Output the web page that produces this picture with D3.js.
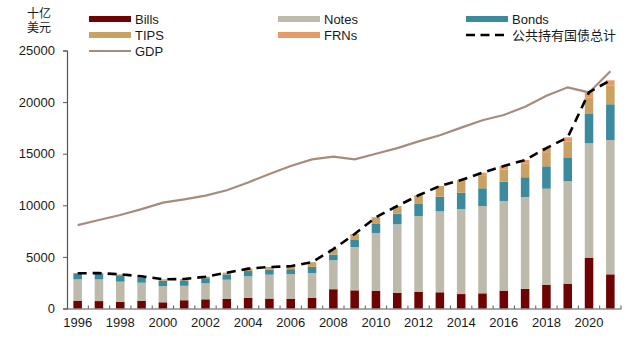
<!DOCTYPE html>
<html>
<head>
<meta charset="utf-8">
<script src="https://cdn.jsdelivr.net/npm/d3@7"></script>
<style>
  html, body { margin: 0; padding: 0; background: #fff; }
  svg { display: block; }
  text { font-family: "Liberation Sans", Arial, "Noto Sans CJK SC", sans-serif; fill: #1a1a1a; }
</style>
</head>
<body>
<svg id="chart"></svg>
<script>
(function() {

    // Data (billions of USD)
    const years = d3.range(1996, 2022);
    const bills = [760, 720, 640, 730, 600, 800, 890, 920, 1020, 960, 950, 1020, 1870, 1760, 1730, 1530, 1630, 1570, 1400, 1470, 1730, 1900, 2280, 2410, 4930, 3310];
    const notes = [2070, 2100, 1960, 1770, 1580, 1400, 1550, 1870, 2100, 2320, 2390, 2420, 2810, 4200, 5590, 6630, 7330, 7850, 8240, 8460, 8690, 8890, 9330, 9920, 11080, 13020];
    const bonds = [580, 580, 620, 520, 520, 510, 500, 510, 510, 480, 470, 600, 550, 740, 870, 1030, 1170, 1410, 1580, 1720, 1870, 1930, 2170, 2320, 2840, 3460];
    const tips = [0, 30, 90, 100, 130, 150, 140, 170, 230, 260, 290, 450, 520, 520, 650, 740, 840, 1040, 1130, 1200, 1180, 1310, 1370, 1520, 1570, 1800];
    const frns = [0, 0, 0, 0, 0, 0, 0, 0, 0, 0, 0, 0, 0, 0, 0, 0, 0, 0, 100, 310, 340, 360, 400, 420, 530, 520];
    const gdp = [8073, 8578, 9063, 9631, 10252, 10582, 10936, 11458, 12214, 13037, 13815, 14452, 14713, 14449, 14992, 15543, 16197, 16785, 17527, 18238, 18745, 19543, 20612, 21433, 20937, 22997];
    const yTicks = [0, 5000, 10000, 15000, 20000, 25000];
    const xLabels = d3.range(1996, 2021, 2);

    const keys = ['bills', 'notes', 'bonds', 'tips', 'frns'];
    const colors = {
        bills: '#6e0303',
        notes: '#bdbaab',
        bonds: '#3b8a9e',
        tips: '#c9a263',
        frns: '#e49b68'
    };

    const rows = years.map((y, i) => ({
        year: y,
        bills: bills[i],
        notes: notes[i],
        bonds: bonds[i],
        tips: tips[i],
        frns: frns[i]
    }));

    const w = 640;
    const h = 341;
    const left = 67;
    const right = 621;
    const bottom = 308.5;
    const top = 50.5;

    const svg = d3.select('#chart')
        .attr('width', w)
        .attr('height', h);

    // Scales
    const scaleX = d3.scaleBand()
        .domain(years)
        .range([left, right])
        .paddingInner(0.6)
        .paddingOuter(0.3);

    const scaleY = d3.scaleLinear()
        .domain([0, 25000])
        .range([bottom, top]);

    const step = scaleX.step();
    const cx = d => scaleX(d) + scaleX.bandwidth() / 2;

    // Stacked bars
    const stacked = d3.stack().keys(keys)(rows);

    svg.append('g')
        .selectAll('g')
        .data(stacked)
        .enter()
        .append('g')
        .attr('fill', d => colors[d.key])
        .selectAll('rect')
        .data(d => d)
        .enter()
        .append('rect')
        .attr('x', d => scaleX(d.data.year))
        .attr('width', scaleX.bandwidth())
        .attr('y', d => scaleY(d[1]))
        .attr('height', d => scaleY(d[0]) - scaleY(d[1]));

    // Y axis
    const yAxis = d3.axisLeft(scaleY)
        .tickValues(yTicks)
        .tickSize(4)
        .tickPadding(8)
        .tickFormat(d3.format('d'));

    const gy = svg.append('g')
        .attr('transform', `translate(${left}, 0)`)
        .call(yAxis);
    gy.select('.domain').attr('stroke', '#555').attr('stroke-width', 1.2);
    gy.selectAll('.tick line').attr('stroke', '#555');
    gy.selectAll('.tick text').attr('font-size', 13).attr('fill', '#1a1a1a')
        .style('font-family', '"Liberation Sans", Arial, sans-serif');

    // X axis: labels at bar centres, small ticks between bars
    const xAxis = d3.axisBottom(scaleX)
        .tickValues(xLabels)
        .tickSize(0)
        .tickPadding(9);

    const gx = svg.append('g')
        .attr('transform', `translate(0, ${bottom})`)
        .call(xAxis);
    gx.select('.domain').attr('stroke', '#555').attr('stroke-width', 1.2);
    gx.selectAll('.tick text').attr('font-size', 13).attr('fill', '#1a1a1a')
        .style('font-family', '"Liberation Sans", Arial, sans-serif');

    gx.selectAll('line.sep')
        .data(years.slice(1).concat([null]))
        .enter()
        .append('line')
        .attr('class', 'sep')
        .attr('x1', (d, i) => cx(years[i]) + step / 2)
        .attr('x2', (d, i) => cx(years[i]) + step / 2)
        .attr('y1', 0)
        .attr('y2', -3)
        .attr('stroke', '#555');

    // GDP line
    const gdpLine = d3.line()
        .x((d, i) => cx(years[i]))
        .y(d => scaleY(d));

    svg.append('path')
        .datum(gdp)
        .attr('fill', 'none')
        .attr('stroke', '#a68c7d')
        .attr('stroke-width', 2.2)
        .attr('d', gdpLine);

    // Total held by the public: top of each stack
    const totals = stacked[stacked.length - 1].map(d => d[1]);
    const totalLine = d3.line()
        .x((d, i) => cx(years[i]))
        .y(d => scaleY(d));

    svg.append('path')
        .datum(totals)
        .attr('fill', 'none')
        .attr('stroke', '#000')
        .attr('stroke-width', 2.6)
        .attr('stroke-dasharray', '9,6')
        .attr('d', totalLine);

    // Unit label
    const unit = svg.append('text')
        .attr('x', 39)
        .attr('text-anchor', 'middle')
        .attr('font-size', 12);
    unit.append('tspan').attr('x', 39).attr('y', 18).text('十亿');
    unit.append('tspan').attr('x', 39).attr('y', 32).text('美元');

    // Legend
    const legendItems = [
        { label: 'Bills', type: 'bar', color: colors.bills, x: 89, y: 19 },
        { label: 'Notes', type: 'bar', color: colors.notes, x: 278, y: 19 },
        { label: 'Bonds', type: 'bar', color: colors.bonds, x: 466, y: 19 },
        { label: 'TIPS', type: 'bar', color: colors.tips, x: 89, y: 35 },
        { label: 'FRNs', type: 'bar', color: colors.frns, x: 278, y: 35 },
        { label: '公共持有国债总计', type: 'dash', color: '#000', x: 466, y: 35 },
        { label: 'GDP', type: 'line', color: '#a68c7d', x: 89, y: 51 }
    ];

    const legend = svg.append('g')
        .selectAll('g')
        .data(legendItems)
        .enter()
        .append('g')
        .attr('transform', d => `translate(${d.x}, ${d.y})`);

    legend.filter(d => d.type === 'bar')
        .append('rect')
        .attr('x', 0)
        .attr('y', -3)
        .attr('width', 42)
        .attr('height', 6)
        .attr('fill', d => d.color);

    legend.filter(d => d.type !== 'bar')
        .append('line')
        .attr('x1', 0)
        .attr('x2', 42)
        .attr('y1', 0)
        .attr('y2', 0)
        .attr('stroke', d => d.color)
        .attr('stroke-width', d => d.type === 'dash' ? 2.6 : 2.2)
        .attr('stroke-dasharray', d => d.type === 'dash' ? '9,5.5' : null);

    legend.append('text')
        .attr('x', 46)
        .attr('y', 0)
        .attr('dy', '0.35em')
        .attr('font-size', 13)
        .text(d => d.label);

})();
</script>
</body>
</html>
